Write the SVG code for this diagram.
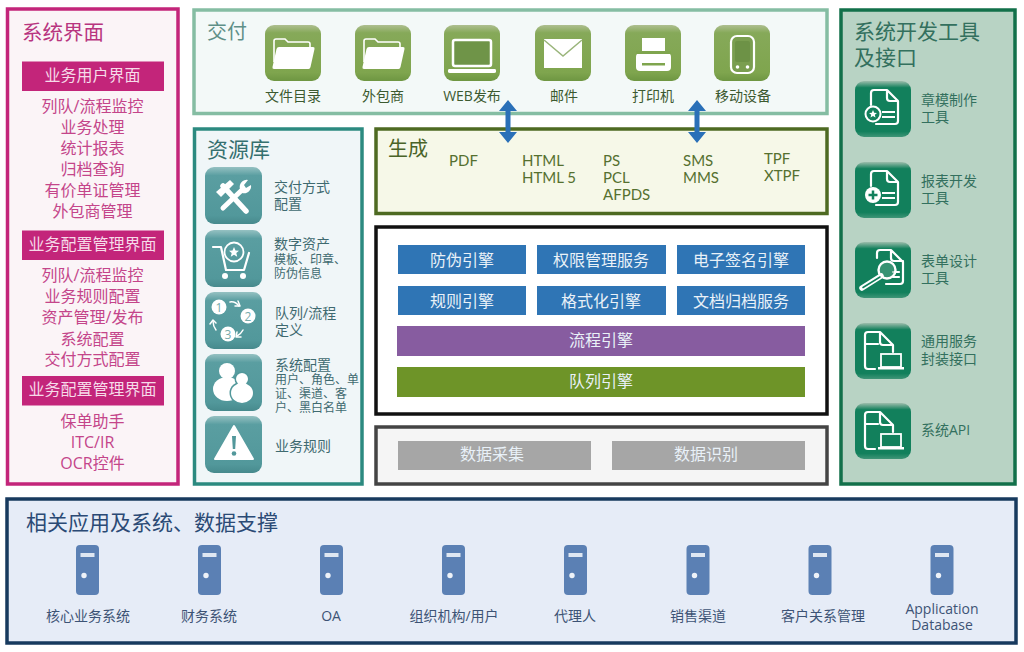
<svg xmlns="http://www.w3.org/2000/svg" width="1024" height="652" viewBox="0 0 1024 652">
<style>
text{font-family:"Open Sans","Noto Sans CJK SC",sans-serif;}
.l{font-size:16px;fill:#c4458a;text-anchor:middle}
.h{fill:#c3257a}
.hh{font-size:16px;fill:#f6dbe9;text-anchor:middle}
.b{fill:#2f75b5}
.bt{font-size:16px;fill:#e9f1f8;text-anchor:middle}
.s{font-size:14px;fill:#3f6a70}
.xs{font-size:12px;fill:#3f6a70}
.ts{font-size:14px;fill:#33705e}
.d{font-size:14px;fill:#3c5a30;text-anchor:middle}
.sv{font-size:14px;fill:#3d5375;text-anchor:middle}
.gen{font-family:Lato,"Noto Sans CJK SC",sans-serif;font-size:15px;fill:#55702f}
.w{fill:#fff}
.o{fill:none;stroke:#fff;stroke-width:2.2;stroke-linejoin:round;stroke-linecap:round}
</style>
<defs>
<linearGradient id="lg" x1="0" y1="0" x2="0" y2="1"><stop offset="0" stop-color="#aebf90"/><stop offset=".14" stop-color="#86a959"/><stop offset=".85" stop-color="#7fa54e"/><stop offset="1" stop-color="#6e9642"/></linearGradient>
<linearGradient id="tg" x1="0" y1="0" x2="0" y2="1"><stop offset="0" stop-color="#95c1c2"/><stop offset=".15" stop-color="#5a9ea1"/><stop offset=".85" stop-color="#52989b"/><stop offset="1" stop-color="#478a8d"/></linearGradient>
<linearGradient id="ng" x1="0" y1="0" x2="0" y2="1"><stop offset="0" stop-color="#9dbdac"/><stop offset=".12" stop-color="#12805c"/><stop offset=".9" stop-color="#12805c"/><stop offset="1" stop-color="#3f9577"/></linearGradient>
<rect id="gb" width="56" height="56" rx="9" fill="url(#lg)"/>
<rect id="tb" width="57" height="57" rx="9" fill="url(#tg)"/>
<rect id="nb" width="56" height="56" rx="9" fill="url(#ng)"/>
<g id="folder"><path d="M9 37V16q0-2 2-2h9l3 3h20q2 0 2 2v3" fill="none" stroke="#fff" stroke-width="1.6"/><path d="M14 22h34q2 0 1.500 2l-4 18q-.5 2-2 2H9q-2 0-1.500-2l4-18q.5-2 2.500-2z" fill="#fff"/></g>
<g id="srv"><rect x="-11.500" y="0" width="23" height="50" rx="4" fill="#5b80b4"/><rect x="-7" y="8" width="14" height="4" fill="#dfe7f2"/><circle cx="-3.500" cy="30.500" r="2.700" fill="#eef2f8"/></g>
<path id="doc" d="M16 24V12q0-3 3-3h13l11 11v20q0 3-3 3H21M32 9v8q0 3 3 3h8" fill="none" stroke="#fff" stroke-width="2.200" stroke-linejoin="round" stroke-linecap="round"/>
<g id="doclap"><path d="M20 46h-7q-3 0-3-3V12q0-3 3-3h12l13 13v7M25 9v10q0 3 3 3h10M11 21h12" fill="none" stroke="#fff" stroke-width="2.200" stroke-linejoin="round" stroke-linecap="round"/><rect x="26" y="31" width="20" height="13" fill="#12805c" stroke="#fff" stroke-width="1.800"/><rect x="23" y="44" width="26" height="2.500" fill="#fff"/></g>
<path id="arr" d="M0 0l9 11h-6.500v21h6.500l-9 11-9-11h6.500v-21h-6.500z" fill="#2a70b8"/>
</defs>
<rect width="1024" height="652" fill="#fff"/>
<g id="ui">
<rect x="7.500" y="9" width="170.500" height="475" fill="#fbf4f7" stroke="#c3257a" stroke-width="3.500"/>
<text x="22" y="40" font-size="20.500" fill="#b8357f">系统界面</text>
<rect class="h" x="22" y="61.500" width="142" height="29.500"/><text class="hh" x="92.500" y="81">业务用户界面</text>
<text class="l" x="92.500" y="112">列队/流程监控</text><text class="l" x="92.500" y="133">业务处理</text><text class="l" x="92.500" y="154">统计报表</text><text class="l" x="92.500" y="175">归档查询</text><text class="l" x="92.500" y="196">有价单证管理</text><text class="l" x="92.500" y="217">外包商管理</text>
<rect class="h" x="22" y="230.500" width="142" height="29.500"/><text class="hh" x="92.500" y="250">业务配置管理界面</text>
<text class="l" x="92.500" y="281">列队/流程监控</text><text class="l" x="92.500" y="302">业务规则配置</text><text class="l" x="92.500" y="323">资产管理/发布</text><text class="l" x="92.500" y="345">系统配置</text><text class="l" x="92.500" y="365">交付方式配置</text>
<rect class="h" x="22" y="376" width="142" height="29.500"/><text class="hh" x="92.500" y="395">业务配置管理界面</text>
<text class="l" x="92.500" y="427">保单助手</text><text class="l" x="92.500" y="448">ITC/IR</text><text class="l" x="92.500" y="469">OCR控件</text>
</g>
<g id="delivery">
<rect x="194" y="10" width="633" height="103.500" fill="#f3f9f8" stroke="#85bda3" stroke-width="3.500"/>
<text x="207" y="39" font-size="20" fill="#5f9088">交付</text>
<g id="d1"><use href="#gb" x="265" y="25"/><use href="#folder" x="265" y="25"/><text class="d" x="293" y="101">文件目录</text></g>
<g id="d2"><use href="#gb" x="355" y="25"/><use href="#folder" x="355" y="25"/><text class="d" x="383" y="101">外包商</text></g>
<g id="d3"><use href="#gb" x="444" y="25"/><rect x="453" y="40" width="38" height="26" rx="2" fill="#6f9448" stroke="#fff" stroke-width="2.500"/><path d="M449 69h46q1 0 1 1.500v1q0 1.500-2 1.500h-44q-2 0-2-1.500v-1q0-1.500 1-1.500z" fill="#fff"/><text class="d" x="472" y="101">WEB发布</text></g>
<g id="d4"><use href="#gb" x="535" y="25"/><rect x="544" y="39" width="38" height="29" fill="#fff"/><path d="M544 40l19 16 19-16" fill="none" stroke="#9ab57b" stroke-width="1.500"/><text class="d" x="564" y="101">邮件</text></g>
<g id="d5"><use href="#gb" x="625" y="25"/><rect x="642" y="38" width="23" height="16" fill="#fff"/><path d="M640 53h27q4 0 4 4v10q0 4-4 4h-27q-4 0-4-4v-10q0-4 4-4z" fill="#fff"/><rect x="636" y="51" width="35" height="3" fill="#7fa54e"/><rect x="642" y="63" width="23" height="2.500" fill="#7fa54e"/><text class="d" x="653" y="101">打印机</text></g>
<g id="d6"><use href="#gb" x="714" y="25"/><rect x="731" y="36" width="23" height="37" rx="6" fill="#7a9e50" stroke="#fff" stroke-width="2.200"/><rect x="735" y="41" width="15" height="21" rx="2" fill="#6d9246"/><circle cx="737.500" cy="67" r="1.800" fill="#fff"/><circle cx="747.500" cy="67" r="1.800" fill="#fff"/><text class="d" x="743" y="101">移动设备</text></g>
</g>
<g id="resource">
<rect x="194.500" y="129" width="167.500" height="355" fill="#f0f6f8" stroke="#2c8a80" stroke-width="3.500"/>
<text x="207" y="157" font-size="21" fill="#35706f">资源库</text>
<g id="r1"><use href="#tb" x="205" y="167"/><g transform="translate(205 167)"><path d="M41 44L18 19" stroke="#fff" stroke-width="5.500" stroke-linecap="round"/><path d="M11 25L25 13l4 4-13 13z" fill="#fff"/><path d="M18 41L38 22" stroke="#fff" stroke-width="5" stroke-linecap="round"/><path d="M35 22a7 7 0 0 1 8-9l-4 5 2 3 5-3a7 7 0 0 1-9 8z" fill="#fff"/></g><text class="s" x="274" y="192">交付方式<tspan x="274" dy="17">配置</tspan></text></g>
<g id="r2"><use href="#tb" x="205" y="230"/><g transform="translate(205 230)"><path d="M8 17h8l5 23h18l5-17" class="o"/><circle cx="29" cy="22" r="9.500" fill="none" stroke="#fff" stroke-width="1.800"/><path d="M29 17l1.500 3.500 3.500.3-2.700 2.300.9 3.600-3.200-2-3.200 2 .9-3.600-2.700-2.300 3.500-.3z" fill="#fff"/><circle cx="20" cy="46" r="3" class="w"/><circle cx="38" cy="46" r="3" class="w"/></g><text class="s" x="274" y="249">数字资产<tspan class="xs" x="274" dy="15">模板、印章、</tspan><tspan class="xs" x="274" dy="14">防伪信息</tspan></text></g>
<g id="r3"><use href="#tb" x="205" y="292"/><g transform="translate(205 292)"><circle cx="14" cy="15" r="7.500" class="w"/><circle cx="43" cy="24" r="7.500" class="w"/><circle cx="23" cy="42" r="7.500" class="w"/><path d="M25 10q5-1 9 4M38 38q-2 4-6 6M11 38q-3-4-3-9" class="o" style="stroke-width:1.500"/><path d="M33 9l2 5-5 0M32 40l-1 5 5 0M5 32l3-4 3 3" class="o" style="stroke-width:1.500"/><g font-size="12" fill="#7aa" text-anchor="middle"><text x="14" y="19.500">1</text><text x="43" y="28.500">2</text><text x="23" y="46.500">3</text></g></g><text class="s" x="275" y="318">队列/流程<tspan x="275" dy="17">定义</tspan></text></g>
<g id="r4"><use href="#tb" x="205" y="354"/><g transform="translate(205 354)"><circle cx="22" cy="17" r="8" class="w"/><ellipse cx="22" cy="35" rx="14" ry="12" class="w"/><circle cx="37" cy="25" r="7.500" fill="#52989b"/><ellipse cx="37" cy="39" rx="12.500" ry="11.500" fill="#52989b"/><circle cx="37" cy="25" r="6" class="w"/><ellipse cx="37" cy="39" rx="11" ry="10" class="w"/></g><text class="s" x="275" y="370">系统配置<tspan class="xs" x="275" dy="14">用户、角色、单</tspan><tspan class="xs" x="275" dy="14">证、渠道、客</tspan><tspan class="xs" x="275" dy="14">户、黑白名单</tspan></text></g>
<g id="r5"><use href="#tb" x="205" y="416"/><g transform="translate(205 416)"><path d="M29 10L48 43H10z" class="w" stroke="#fff" stroke-width="2" stroke-linejoin="round"/><path d="M27 20h4l-.8 13h-2.400z" fill="#52989b"/><circle cx="29" cy="37.500" r="2.300" fill="#52989b"/></g><text class="s" x="275" y="451">业务规则</text></g>
</g>
<g id="generate">
<rect x="376" y="129" width="451" height="84.500" fill="#f6f8e8" stroke="#4e6a22" stroke-width="3.500"/>
<text x="388" y="156" font-size="20" fill="#4a6428">生成</text>
<text class="gen" x="449" y="166">PDF</text><text class="gen" x="522" y="166">HTML</text><text class="gen" x="522" y="183">HTML 5</text><text class="gen" x="603" y="166">PS</text><text class="gen" x="603" y="183">PCL</text><text class="gen" x="603" y="200">AFPDS</text><text class="gen" x="683" y="166">SMS</text><text class="gen" x="683" y="183">MMS</text><text class="gen" x="764" y="164">TPF</text><text class="gen" x="764" y="181">XTPF</text>
</g>
<g id="engine">
<rect x="376" y="227" width="451" height="187" fill="#fff" stroke="#111" stroke-width="3.500"/>
<rect class="b" x="398" y="245" width="128" height="29"/><text class="bt" x="462" y="266">防伪引擎</text>
<rect class="b" x="537" y="245" width="129" height="29"/><text class="bt" x="601" y="266">权限管理服务</text>
<rect class="b" x="677" y="245" width="128" height="29"/><text class="bt" x="741" y="266">电子签名引擎</text>
<rect class="b" x="398" y="286" width="128" height="29"/><text class="bt" x="462" y="307">规则引擎</text>
<rect class="b" x="537" y="286" width="129" height="29"/><text class="bt" x="601" y="307">格式化引擎</text>
<rect class="b" x="677" y="286" width="128" height="29"/><text class="bt" x="741" y="307">文档归档服务</text>
<rect x="397" y="326" width="408" height="30" fill="#875ca0"/><text class="bt" x="601" y="346">流程引擎</text>
<rect x="397" y="367" width="408" height="30" fill="#6e9428"/><text class="bt" x="601" y="387">队列引擎</text>
</g>
<g id="data">
<rect x="376" y="427" width="451" height="57" fill="#f5f5f5" stroke="#444" stroke-width="3.500"/>
<rect x="398" y="441" width="193" height="29" fill="#a6a6a6"/><text class="bt" x="492" y="460">数据采集</text>
<rect x="612" y="441" width="193" height="29" fill="#a6a6a6"/><text class="bt" x="706" y="460">数据识别</text>
</g>
<g id="tools">
<rect x="841" y="10" width="174" height="474" fill="#b8d3c4" stroke="#12704a" stroke-width="3.500"/>
<text x="854" y="39" font-size="21" fill="#33705e">系统开发工具</text><text x="854" y="65" font-size="21" fill="#33705e">及接口</text>
<g id="t1"><use href="#nb" x="855" y="81"/><use href="#doc" x="855" y="81"/><g transform="translate(855 81)"><circle cx="18" cy="33" r="7.500" fill="#12805c" stroke="#fff" stroke-width="2"/><path d="M18 29l1.200 2.700 2.800.2-2.200 1.800.7 2.800-2.500-1.500-2.500 1.500.7-2.800-2.200-1.800 2.800-.2z" fill="#fff"/><path d="M27 31h13M27 36h13" stroke="#fff" stroke-width="2"/></g><text class="ts" x="921" y="105">章模制作</text><text class="ts" x="921" y="122">工具</text></g>
<g id="t2"><use href="#nb" x="855" y="162"/><use href="#doc" x="855" y="162"/><g transform="translate(855 162)"><circle cx="18" cy="33" r="8" fill="#fff"/><path d="M18 28.500v9M13.500 33h9" stroke="#12805c" stroke-width="2.500"/><path d="M27 31h13M27 36h13" stroke="#fff" stroke-width="2"/></g><text class="ts" x="921" y="186">报表开发</text><text class="ts" x="921" y="203">工具</text></g>
<g id="t3"><use href="#nb" x="855" y="242"/><g transform="translate(855 242)"><path d="M22 16V11q0-3 3-3h11l12 12v19q0 3-3 3H31M36 8v8q0 3 3 3h9" class="o"/><path d="M38 30h6M38 35h6" class="o"/><circle cx="32" cy="28" r="8.500" fill="#5aa58a" fill-opacity=".5" stroke="#fff" stroke-width="2.400"/><path d="M26 34L7 46" stroke="#fff" stroke-width="5.500" stroke-linecap="round"/><path d="M25 35L8 45.500" stroke="#12805c" stroke-width="1.500" stroke-linecap="round"/></g><text class="ts" x="921" y="266">表单设计</text><text class="ts" x="921" y="283">工具</text></g>
<g id="t4"><use href="#nb" x="855" y="323"/><use href="#doclap" x="855" y="323"/><text class="ts" x="921" y="346">通用服务</text><text class="ts" x="921" y="364">封装接口</text></g>
<g id="t5"><use href="#nb" x="855" y="403"/><use href="#doclap" x="855" y="403"/><text class="ts" x="921" y="435">系统API</text></g>
</g>
<g id="support">
<rect x="7" y="499" width="1009" height="144" fill="#e6ecf7" stroke="#173a5e" stroke-width="3.500"/>
<text x="26" y="530" font-size="21" fill="#2b4a75">相关应用及系统、数据支撑</text>
<g id="s1"><use href="#srv" x="87.500" y="545"/><text class="sv" x="88" y="621">核心业务系统</text></g>
<g id="s2"><use href="#srv" x="209.500" y="545"/><text class="sv" x="209" y="621">财务系统</text></g>
<g id="s3"><use href="#srv" x="331.500" y="545"/><text class="sv" x="331" y="621">OA</text></g>
<g id="s4"><use href="#srv" x="453.500" y="545"/><text class="sv" x="454" y="621">组织机构/用户</text></g>
<g id="s5"><use href="#srv" x="575.500" y="545"/><text class="sv" x="575" y="621">代理人</text></g>
<g id="s6"><use href="#srv" x="698" y="545"/><text class="sv" x="698" y="621">销售渠道</text></g>
<g id="s7"><use href="#srv" x="820" y="545"/><text class="sv" x="823" y="621">客户关系管理</text></g>
<g id="s8"><use href="#srv" x="942" y="545"/><text class="sv" x="942" y="614">Application<tspan x="942" dy="16">Database</tspan></text></g>
</g>
<g id="connectors">
<use href="#arr" x="508" y="100"/>
<use href="#arr" x="697" y="100"/>
</g>
</svg>
